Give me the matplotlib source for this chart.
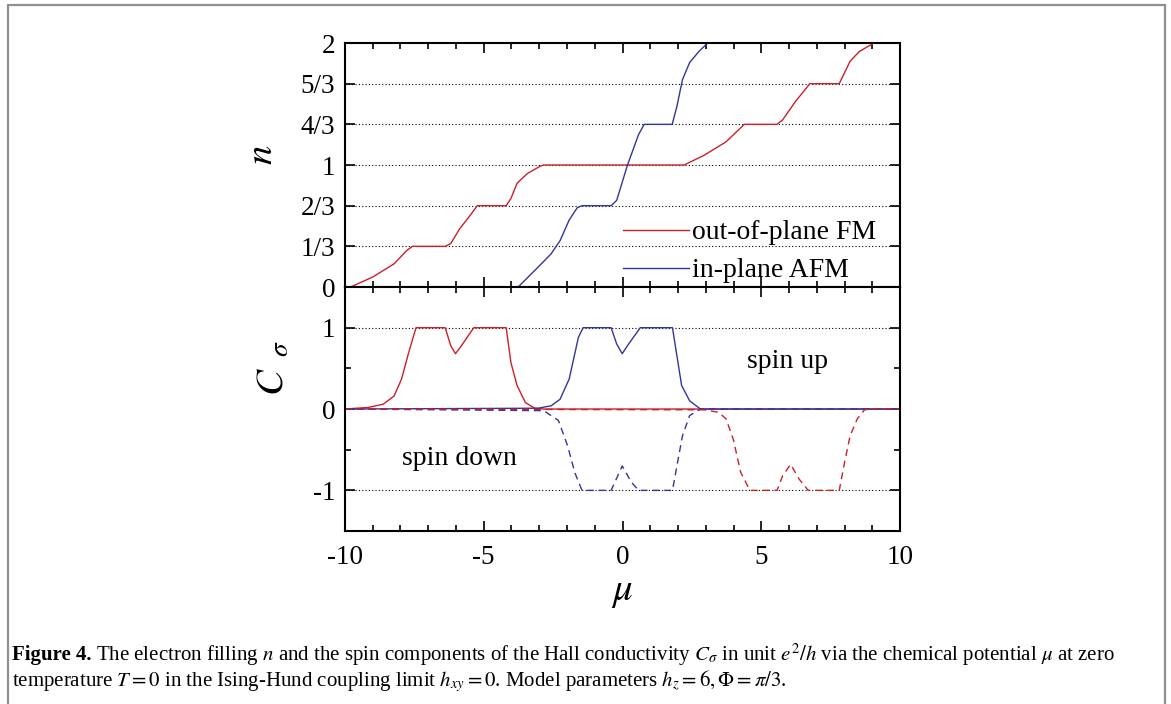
"""
Electron filling n and spin Hall components C_sigma vs chemical potential mu
"""

import numpy as np
import matplotlib.pyplot as plt
import matplotlib
from matplotlib.patches import Rectangle

matplotlib.rcParams['font.family'] = ['Liberation Serif', 'DejaVu Serif']
matplotlib.rcParams['mathtext.fontset'] = 'stix'
matplotlib.rcParams['axes.unicode_minus'] = False

# ---- data ----
# filling n, out-of-plane FM (red)
mu_fm_n = [-10, -9.8, -9.0, -8.23, -7.77, -7.57, -6.39, -6.19, -5.86, -5.53, -5.23, -4.19,
           -4.02, -3.80, -3.43, -2.97, -2.84, 2.22, 2.94, 3.73, 4.39, 5.57, 5.77, 6.23,
           6.75, 7.81, 8.20, 8.53, 9.06, 10]
n_fm = [0, 0, 0.082, 0.19, 0.30, 1/3, 1/3, 0.356, 0.48, 0.575, 2/3, 2/3,
        0.726, 0.85, 0.93, 0.99, 1, 1, 1.08, 1.19, 4/3, 4/3, 1.37, 1.52,
        5/3, 5/3, 1.85, 1.93, 2, 2]

# filling n, in-plane AFM (blue)
mu_afm_n = [-10, -3.76, -3.10, -2.58, -2.25, -1.92, -1.63, -1.46, -0.41, -0.21, 0.18, 0.58,
            0.78, 1.79, 1.96, 2.16, 2.42, 2.75, 3.07, 10]
n_afm = [0, 0, 0.15, 0.27, 0.38, 0.55, 0.65, 2/3, 2/3, 0.71, 1.0, 1.25,
         4/3, 4/3, 1.48, 1.70, 1.84, 1.93, 2, 2]

# C spin up, FM (red solid)
mu_fm_up = [-10, -9.15, -8.62, -8.23, -7.96, -7.70, -7.44, -6.39, -6.19, -6.02, -5.80, -5.36,
            -4.19, -4.02, -3.80, -3.50, -3.17, -2.84, 10]
c_fm_up = [0, 0.02, 0.06, 0.16, 0.37, 0.70, 1, 1, 0.78, 0.68, 0.78, 1,
           1, 0.57, 0.29, 0.08, 0.01, 0, 0]

# C spin up, AFM (blue solid)
mu_afm_up = [-10, -3.04, -2.57, -2.25, -1.92, -1.59, -1.42, -0.41, -0.21, -0.01, 0.18, 0.64,
             1.80, 2.13, 2.42, 2.81, 10]
c_afm_up = [0, 0.01, 0.04, 0.12, 0.37, 0.88, 1, 1, 0.8, 0.68, 0.78, 1,
            1, 0.29, 0.10, 0, 0]

# C spin down, AFM (blue dashed)
mu_afm_dn = [-10, -2.84, -2.31, -1.98, -1.72, -1.46, -0.41, -0.01, 0.32, 0.58, 1.80, 1.96,
             2.16, 2.42, 2.81, 10]
c_afm_dn = [0, -0.02, -0.14, -0.45, -0.78, -1, -1, -0.70, -0.9, -1, -1, -0.7,
            -0.33, -0.08, 0, 0]

# C spin down, FM (red dashed)
mu_fm_dn = [-10, 2.94, 3.46, 3.73, 3.99, 4.26, 4.59, 5.57, 5.77, 6.06, 6.36, 6.69,
            7.81, 8.00, 8.20, 8.46, 8.72, 8.99, 10]
c_fm_dn = [0, -0.01, -0.04, -0.12, -0.37, -0.78, -1, -1, -0.82, -0.68, -0.86, -1,
           -1, -0.66, -0.33, -0.12, -0.01, 0, 0]

n_ticks = [0, 1/3, 2/3, 1, 4/3, 5/3, 2]
n_ticklabels = ['0', '1/3', '2/3', '1', '4/3', '5/3', '2']
c_ticks = [-1, 0, 1]
c_ticklabels = ['-1', '0', '1']
mu_ticks = [-10, -5, 0, 5, 10]

red = '#cc1f2a'
blue = '#34359a'


def style_axis(ax):
    for s in ax.spines.values():
        s.set_linewidth(1.5)
    ax.tick_params(which='both', direction='in', top=True, right=True,
                   width=1.2, labelsize=19.5, pad=7)
    ax.tick_params(which='major', length=7)
    ax.tick_params(which='minor', length=4)
    ax.set_xlim(-10, 10)
    ax.set_xticks(mu_ticks)
    ax.set_xticks(np.arange(-10, 11, 1), minor=True)


fig = plt.figure(figsize=(11.71, 7.04), dpi=100)
ax1 = fig.add_axes([0.2946, 0.5923, 0.4740, 0.3466])
ax2 = fig.add_axes([0.2946, 0.2457, 0.4740, 0.3466])

# top panel: filling
style_axis(ax1)
for v in n_ticks[1:-1]:
    ax1.axhline(v, color='black', linestyle=(0, (1, 2)), linewidth=0.8, zorder=1)
ax1.plot(mu_fm_n, n_fm, color=red, lw=1.0, label='out-of-plane FM')
ax1.plot(mu_afm_n, n_afm, color=blue, lw=1.0, label='in-plane AFM')
ax1.set_ylim(0, 2)
ax1.set_yticks(n_ticks)
ax1.set_yticklabels(n_ticklabels)
ax1.tick_params(axis='x', labelbottom=False)
ax1.legend(loc='upper left', bbox_to_anchor=(0.5, 0.275), frameon=False,
           fontsize=20, handlelength=2.4, handletextpad=0.1, labelspacing=0.45,
           borderpad=0, borderaxespad=0)

# bottom panel: C_sigma
style_axis(ax2)
for v in [1, -1]:
    ax2.axhline(v, color='black', linestyle=(0, (1, 2)), linewidth=0.8, zorder=1)
ax2.plot(mu_fm_up, c_fm_up, color=red, lw=1.0)
ax2.plot(mu_afm_up, c_afm_up, color=blue, lw=1.0)
ax2.plot(mu_afm_dn, c_afm_dn, color=blue, lw=1.0, ls=(0, (5, 3.5)))
ax2.plot(mu_fm_dn, c_fm_dn, color=red, lw=1.0, ls=(0, (5, 3.5)))
ax2.set_ylim(-1.5, 1.5)
ax2.set_yticks(c_ticks)
ax2.set_yticklabels(c_ticklabels)
ax2.set_yticks([-0.5, 0.5], minor=True)
ax2.tick_params(axis='x', pad=10)
ax2.text(5.96, 0.59, 'spin up', fontsize=20, ha='center', va='center')
ax2.text(-5.86, -0.61, 'spin down', fontsize=20, ha='center', va='center')

# axis labels
fig.text(262 / 1171, 1 - 155 / 704, r'$n$', fontsize=28, rotation=90,
         ha='center', va='center')
fig.text(274 / 1171, 1 - 368 / 704, r'$C_{\ \ \sigma}$', fontsize=28, rotation=90,
         ha='center', va='center')
fig.text(622 / 1171, 1 - 592 / 704, r'$\mu$', fontsize=28, ha='center', va='center')

# caption
cap_x = 12 / 1171
cap_fs = 15
t_bold = fig.text(cap_x, 1 - 655 / 704, 'Figure 4.', fontsize=cap_fs,
                  fontweight='bold', ha='left', va='center')
fig.canvas.draw()
bb = t_bold.get_window_extent()
fig.text((bb.x1 + 4) / 1171, 1 - 655 / 704,
         r'The electron filling $n$ and the spin components of the Hall conductivity '
         r'$C_\sigma$ in unit $e^2/h$ via the chemical potential $\mu$ at zero',
         fontsize=cap_fs, ha='left', va='center')
fig.text(cap_x, 1 - 681 / 704,
         r'temperature $T = 0$ in the Ising-Hund coupling limit $h_{xy} = 0$. '
         r'Model parameters $h_z = 6, \Phi = \pi/3$.',
         fontsize=cap_fs, ha='left', va='center')

# grey frame round the figure
fig.patches.append(Rectangle((8 / 1171, -0.02), (1165 - 8) / 1171, 1.02 - 5 / 704,
                             transform=fig.transFigure, fill=False,
                             edgecolor='#909090', linewidth=1.6))

plt.savefig('out.png', dpi=100)
plt.close()
